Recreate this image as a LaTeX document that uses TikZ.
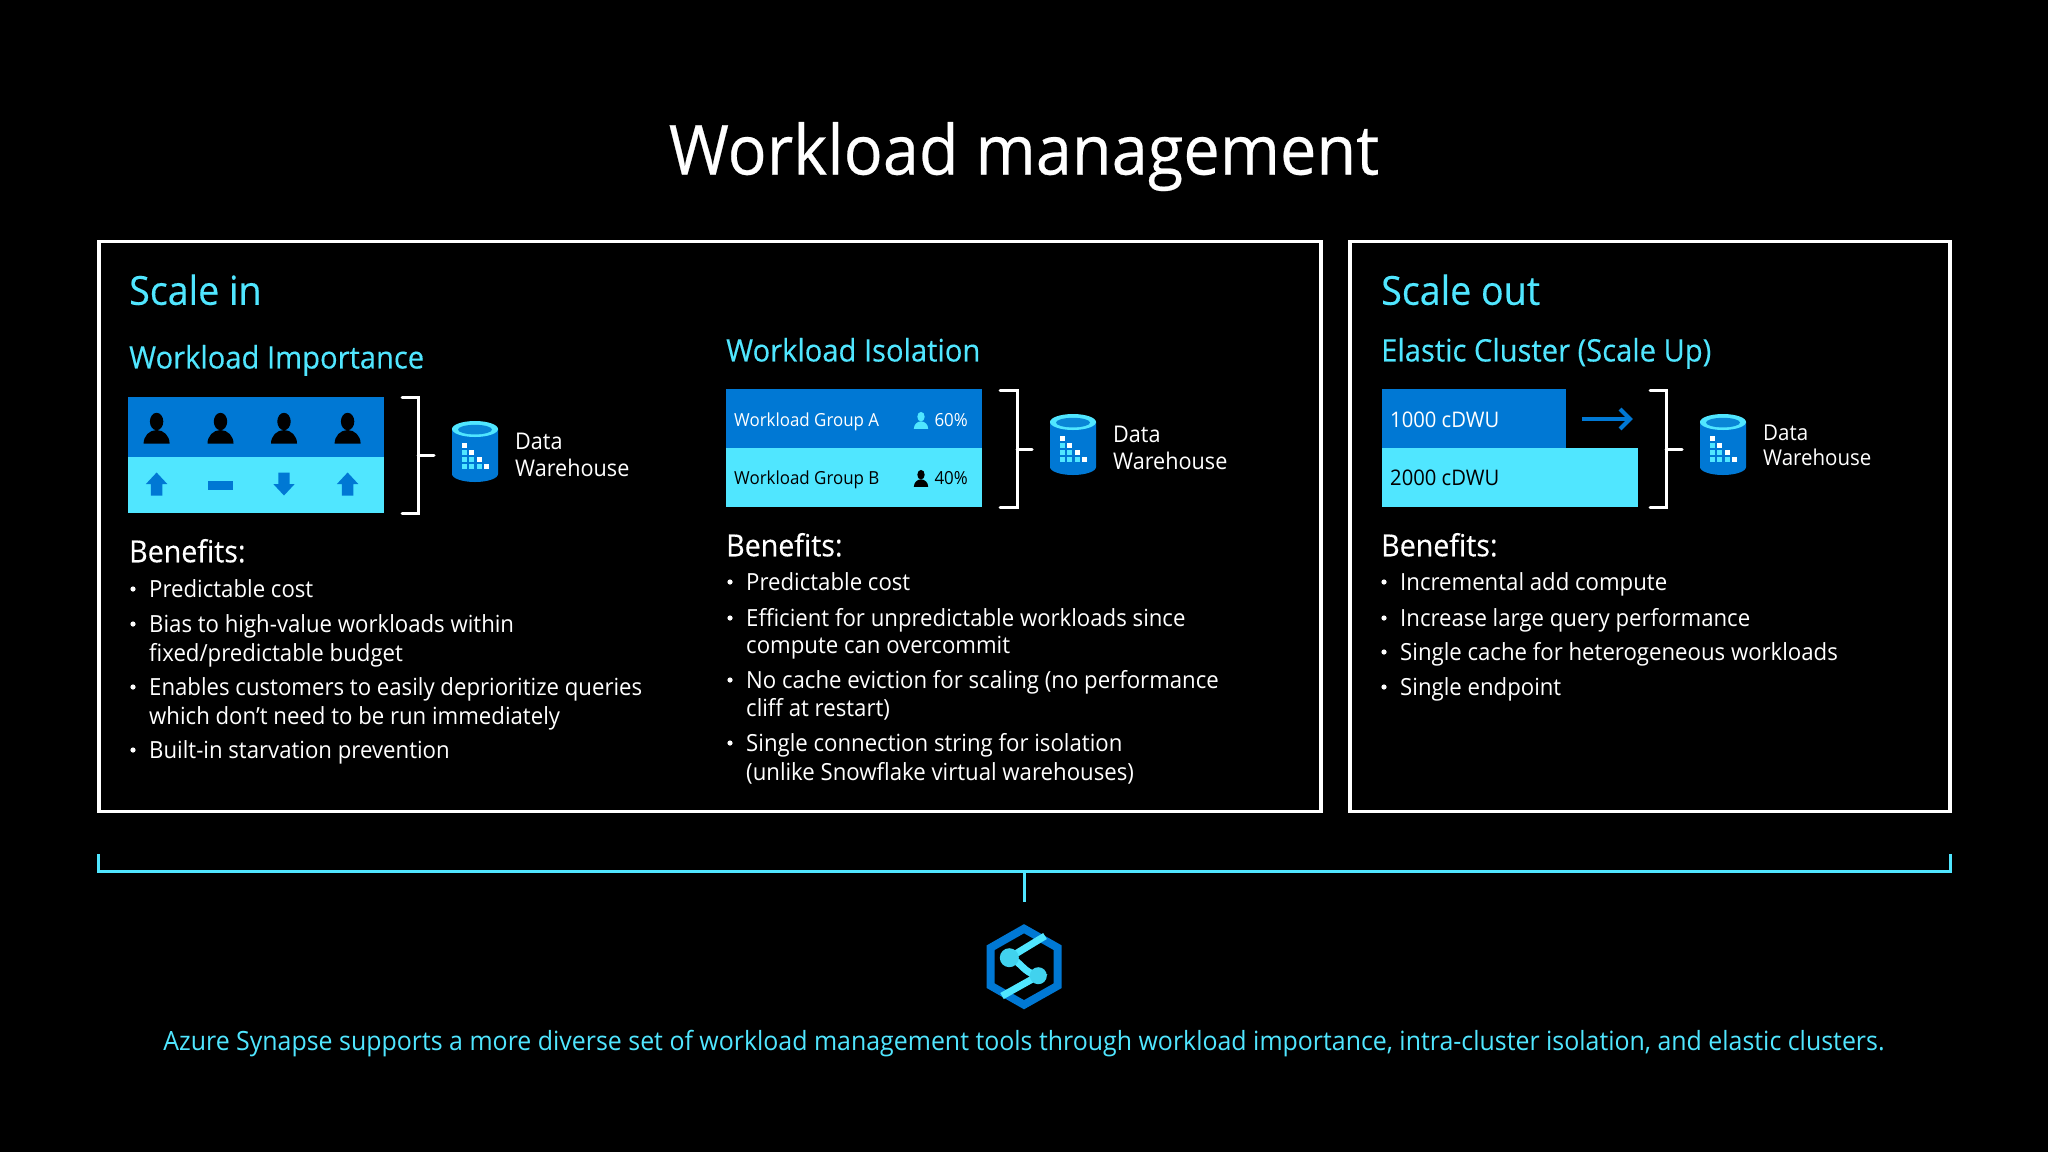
\documentclass[tikz,border=0pt]{standalone}
\usepackage{fontspec}
\setmainfont[FakeStretch=0.94]{Open Sans}
\newfontfamily\semifont[FakeStretch=0.94,FakeBold=0.35]{Open Sans}
\definecolor{azure}{HTML}{0078D4}
\definecolor{cyanlt}{HTML}{50E6FF}
\definecolor{cyanmd}{HTML}{32BEDD}
\newcommand{\fsz}[1]{\fontsize{#1}{#1}\selectfont}
\tikzset{
  sz/.style={font=\fsz{#1},text height=#1*0.94pt,text depth=#1*0.2pt},
  szb/.style={font=\semifont\fsz{#1},text height=#1*0.94pt,text depth=#1*0.2pt},
  txt/.style={anchor=west,inner sep=0pt,text=white},
  head/.style={txt,text=cyanlt},
  band/.style={anchor=north west,inner sep=0pt,outer sep=0pt,minimum height=#1},
  frame/.style={draw=white,line width=3.2pt,outer sep=0pt,inner sep=0pt},
  brk/.style={draw=white,line width=3pt,line cap=round},
  person/.pic={
    \fill (0,-11.5) ellipse[x radius=6.7pt,y radius=8.7pt];
    \fill (-13,10.5) arc[start angle=180,end angle=0,x radius=13pt,y radius=13.5pt] -- cycle;
  },
  arrowup/.pic={
    \fill (-5.7,11.5) -- (-5.7,0) -- (-10.7,0) -- (0,-11.5) -- (10.7,0) -- (5.7,0) -- (5.7,11.5) -- cycle;
  },
  dwh/.pic={
    \fill[azure] (0,8) -- (0,53) arc[start angle=180,end angle=360,x radius=23pt,y radius=8pt] -- (46,8) -- cycle;
    \fill[cyanlt] (23,8) ellipse[x radius=23pt,y radius=8pt];
    \fill[azure!80!cyanmd] (23,8.6) ellipse[x radius=17pt,y radius=4.8pt];
    \foreach \cx/\cy/\cc in {0/0/white,0/1/cyanlt,1/1/white,0/2/cyanlt,1/2/cyanlt,2/2/white,0/3/cyanlt,1/3/cyanlt,2/3/cyanlt,3/3/white}
      \fill[\cc] (10+7.3*\cx,22+7.1*\cy) rectangle +(5,5);
  }
}
\begin{document}
\begin{tikzpicture}[x=1pt,y=-1pt]
\fill[black] (0,0) rectangle (2048,1152);
\useasboundingbox (0,0) rectangle (2048,1152);
\node[text=white,inner sep=0pt,szb=69] (title) at (1024,149) {Workload management};
% the two boxes
\node[frame,anchor=north west,minimum width=1222pt,minimum height=570pt] (boxin) at (99,241.6) {};
\node[frame,anchor=north west,minimum width=600pt,minimum height=570pt] (boxout) at (1350,241.6) {};
\node[head,szb=40] (scalein) at (129,290) {Scale in};
\node[head,szb=40] (scaleout) at (1381,290) {Scale out};
\node[head,szb=31] (imp) at (129,357) {Workload Importance};
\node[head,szb=31] (iso) at (726,350) {Workload Isolation};
\node[head,szb=31] (ela) at (1381,350) {Elastic Cluster (Scale Up)};
% importance panel
\node[band=60pt,fill=azure,minimum width=256pt] (imptop) at (128,397) {};
\node[band=56pt,fill=cyanlt,minimum width=256pt] (impbot) at (128,457) {};
\foreach \x in {156.6,220.5,284,347.6}
  \pic[black] at (\x,433) {person};
\pic[azure] at (156.6,484) {arrowup};
\fill[azure] (207.5,481) rectangle (233,490);
\pic[azure,yscale=-1] at (284,484) {arrowup};
\pic[azure] at (347.6,484) {arrowup};
% isolation panel
\node[band=59pt,fill=azure,minimum width=256pt] (grpa) at (726,389) {};
\node[band=59pt,fill=cyanlt,minimum width=256pt] (grpb) at (726,448) {};
\node[txt,sz=18] (grpatxt) at (734,420) {Workload Group A};
\node[txt,sz=18,text=black] (grpbtxt) at (734,478) {Workload Group B};
\pic[cyanlt,scale=0.55] at (921,423) {person};
\pic[black,scale=0.55] at (921,481) {person};
\node[txt,sz=18,anchor=east] (pcta) at (968,420) {60\%};
\node[txt,sz=18,anchor=east,text=black] (pctb) at (968,478) {40\%};
% elastic panel
\node[band=59pt,fill=azure,minimum width=184pt] (dwua) at (1382,389) {};
\node[band=59pt,fill=cyanlt,minimum width=256pt] (dwub) at (1382,448) {};
\node[txt,sz=21.5] (dwuatxt) at (1390,420) {1000 cDWU};
\node[txt,sz=21.5,text=black] (dwubtxt) at (1390,478) {2000 cDWU};
\coordinate (growa) at (1582,419);
\coordinate (growb) at (1630,419);
\draw[azure,line width=4pt] (growa) -- (growb);
\draw[azure,line width=4pt] (1620,409) -- (growb) -- (1620,429);
% brackets and warehouses
\foreach \n/\xa/\xb/\xc/\ya/\yb/\ym in {a/402/418/434/397/513/455,b/1000/1017/1032/390/507/449,c/1650/1666/1682/390/507/449}{
  \coordinate (brk\n t) at (\xa,\ya);
  \coordinate (brk\n b) at (\xa,\yb);
  \coordinate (brk\n m) at (\xb,\ym);
  \coordinate (brk\n s) at (\xc,\ym);
  \draw[brk] (brk\n t) -| (\xb,\yb) -- (brk\n b);
  \draw[brk] (brk\n m) -- (brk\n s);
}
\pic at (452,421) {dwh};
\pic at (1050,414) {dwh};
\pic at (1700,414) {dwh};
\node[txt,sz=23] (dwa1) at (515,441) {Data};
\node[txt,sz=23] (dwa2) at (515,468) {Warehouse};
\node[txt,sz=23] (dwb1) at (1113,434) {Data};
\node[txt,sz=23] (dwb2) at (1113,461) {Warehouse};
\node[txt,sz=21.8] (dwc1) at (1763,432) {Data};
\node[txt,sz=21.8] (dwc2) at (1763,457) {Warehouse};
% benefits
\node[txt,szb=30.4] (bena) at (129,551) {Benefits:};
\node[txt,szb=30.4] (benb) at (726,545) {Benefits:};
\node[txt,szb=30.4] (benc) at (1381,545) {Benefits:};
\foreach \y in {589,624,687,750} \fill[white] (133,\y) circle (2.6pt);
\foreach \y/\t in {589/{Predictable cost},624/{Bias to high-value workloads within},653/{fixed/predictable budget},687/{Enables customers to easily deprioritize queries},716/{which don’t need to be run immediately},750/{Built-in starvation prevention}}
  \node[txt,sz=23.6] (lsta\y) at (149,\y) {\t};
\foreach \y in {582,618,680,743} \fill[white] (730,\y) circle (2.6pt);
\foreach \y/\t in {582/{Predictable cost},618/{Efficient for unpredictable workloads since},645/{compute can overcommit},680/{No cache eviction for scaling (no performance},708/{cliff at restart)},743/{Single connection string for isolation},772/{(unlike Snowflake virtual warehouses)}}
  \node[txt,sz=23.6] (lstb\y) at (746,\y) {\t};
\foreach \y/\t in {582/{Incremental add compute},618/{Increase large query performance},652/{Single cache for heterogeneous workloads},687/{Single endpoint}}{
  \fill[white] (1384,\y) circle (2.6pt);
  \node[txt,sz=23.6] (lstc\y) at (1400,\y) {\t};
}
% bottom bracket
\coordinate (spanl) at (98,854);
\coordinate (spanr) at (1950,854);
\coordinate (spanm) at (1024,871);
\coordinate (spand) at (1024,902);
\draw[cyanlt,line width=3pt] (spanl) |- (spanm) -| (spanr);
\draw[cyanlt,line width=3pt] (spanm) -- (spand);
% synapse logo
\draw[azure,line width=8pt,line join=miter] (1024,928.7) -- (1057.7,947.7) -- (1057.7,985.7) -- (1024,1004.7) -- (990.7,985.7) -- (990.7,947.7) -- cycle;
\draw[cyanlt,line width=7pt] (1045,936) -- (1009.3,957.7) .. controls (1022,962) and (1022,972) .. (1038.3,975.7) -- (1002,996);
\fill[cyanmd!50!cyanlt] (1009.3,957.7) circle (9.5pt);
\fill[cyanmd!50!cyanlt] (1038.3,975.7) circle (8.5pt);
\node[text=cyanlt,inner sep=0pt,sz=26.5] (footer) at (1024,1041) {Azure Synapse supports a more diverse set of workload management tools through workload importance, intra-cluster isolation, and elastic clusters.};
\end{tikzpicture}
\end{document}
